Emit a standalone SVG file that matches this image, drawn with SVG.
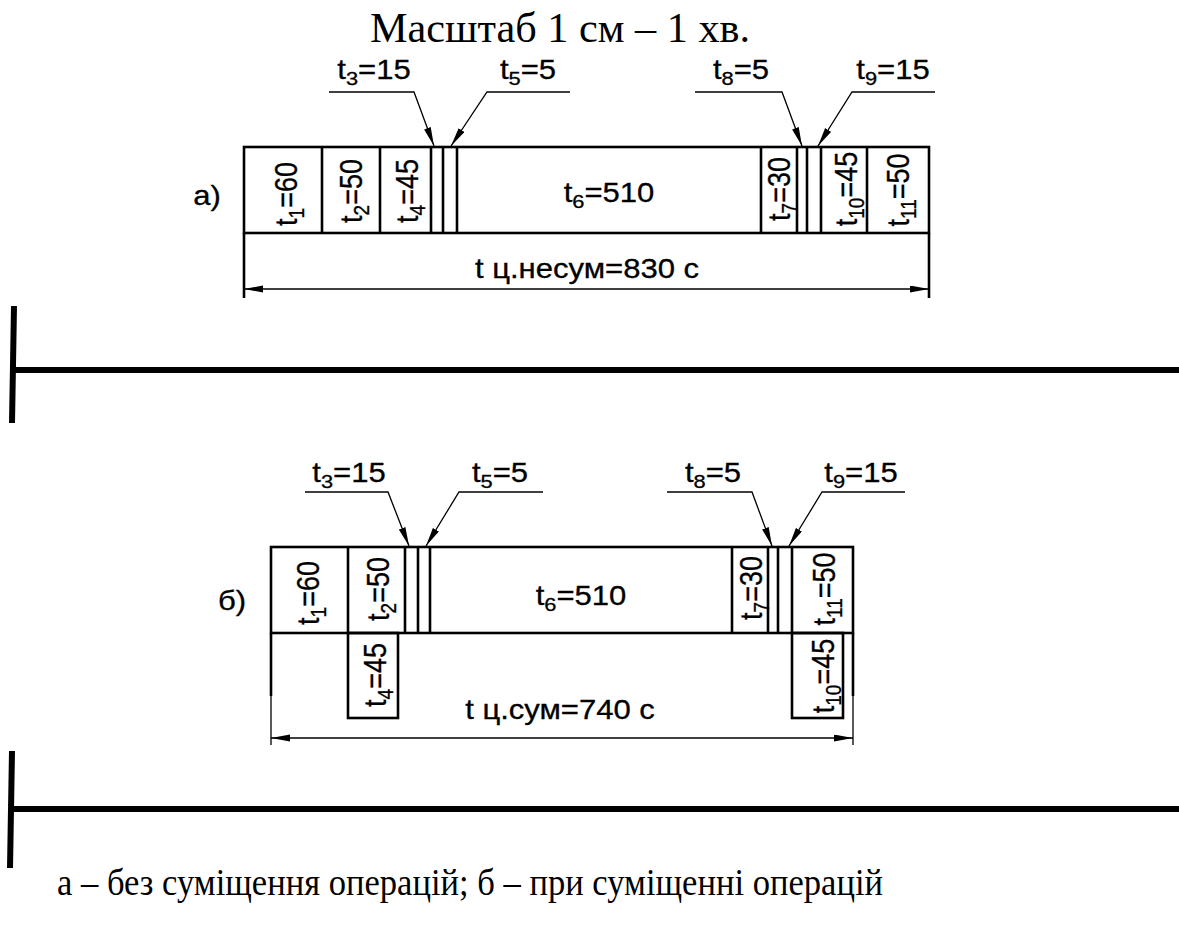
<svg xmlns="http://www.w3.org/2000/svg" width="1179" height="936" viewBox="0 0 1179 936">
<defs>
<marker id="ah" markerUnits="userSpaceOnUse" markerWidth="20" markerHeight="8" refX="19" refY="3.5" orient="auto-start-reverse">
<path d="M0,0 L19,3.5 L0,7 z" fill="#000"/>
</marker>
<style>
.box{fill:none;stroke:#000;stroke-width:2.6}
.div{stroke:#000;stroke-width:2.6}
.thin{stroke:#000;stroke-width:1.3;fill:none}
.sep{stroke:#000;stroke-width:6;fill:none}
.lbl{font-family:"Liberation Sans",Arial,sans-serif;font-size:27px;fill:#000;text-anchor:middle;stroke:#000;stroke-width:0.3}
.ser{font-family:"Liberation Serif","Times New Roman",serif;fill:#000}
</style>
</defs>
<rect width="1179" height="936" fill="#fff"/>
<text class="ser" x="370" y="42" font-size="42" textLength="380" lengthAdjust="spacingAndGlyphs">Масштаб 1 см – 1 хв.</text>

<g id="diagram-a">
<rect class="box" x="244" y="147" width="685" height="86"/>
<g class="div">
<line x1="322" y1="147" x2="322" y2="233"/>
<line x1="380" y1="147" x2="380" y2="233"/>
<line x1="431" y1="147" x2="431" y2="233"/>
<line x1="443" y1="147" x2="443" y2="233"/>
<line x1="457" y1="147" x2="457" y2="233"/>
<line x1="761" y1="147" x2="761" y2="233"/>
<line x1="797" y1="147" x2="797" y2="233"/>
<line x1="807" y1="147" x2="807" y2="233"/>
<line x1="821" y1="147" x2="821" y2="233"/>
<line x1="867" y1="147" x2="867" y2="233"/>
<line x1="244" y1="233" x2="244" y2="298"/>
<line x1="929" y1="233" x2="929" y2="298"/>
</g>
<text class="lbl" transform="translate(207,205) scale(1.15,1)">а)</text>
<text class="lbl" transform="translate(297,194) scale(1.15,1) rotate(-90)">t<tspan font-size="19" dy="6">1</tspan><tspan dy="-6">=60</tspan></text>
<text class="lbl" transform="translate(362,191) scale(1.15,1) rotate(-90)">t<tspan font-size="19" dy="6">2</tspan><tspan dy="-6">=50</tspan></text>
<text class="lbl" transform="translate(418,191) scale(1.15,1) rotate(-90)">t<tspan font-size="19" dy="6">4</tspan><tspan dy="-6">=45</tspan></text>
<text class="lbl" transform="translate(609,202) scale(1.15,1)">t<tspan font-size="19" dy="6">6</tspan><tspan dy="-6">=510</tspan></text>
<text class="lbl" transform="translate(790,189) scale(1.15,1) rotate(-90)">t<tspan font-size="19" dy="6">7</tspan><tspan dy="-6">=30</tspan></text>
<text class="lbl" transform="translate(857,189) scale(1.15,1) rotate(-90)">t<tspan font-size="19" dy="6">10</tspan><tspan dy="-6">=45</tspan></text>
<text class="lbl" transform="translate(909,190) scale(1.15,1) rotate(-90)">t<tspan font-size="19" dy="6">11</tspan><tspan dy="-6">=50</tspan></text>
<text class="lbl" transform="translate(374,79) scale(1.15,1)">t<tspan font-size="19" dy="6">3</tspan><tspan dy="-6">=15</tspan></text>
<text class="lbl" transform="translate(528,79) scale(1.15,1)">t<tspan font-size="19" dy="6">5</tspan><tspan dy="-6">=5</tspan></text>
<text class="lbl" transform="translate(741,79) scale(1.15,1)">t<tspan font-size="19" dy="6">8</tspan><tspan dy="-6">=5</tspan></text>
<text class="lbl" transform="translate(893,79) scale(1.15,1)">t<tspan font-size="19" dy="6">9</tspan><tspan dy="-6">=15</tspan></text>
<text class="lbl" transform="translate(587,278) scale(1.15,1)">t ц.несум=830 с</text>
</g>

<g id="diagram-b">
<rect class="box" x="271" y="547" width="582" height="86"/>
<rect class="box" x="348" y="633" width="50" height="85"/>
<rect class="box" x="792" y="633" width="51" height="85"/>
<g class="div">
<line x1="348" y1="547" x2="348" y2="633"/>
<line x1="405" y1="547" x2="405" y2="633"/>
<line x1="418" y1="547" x2="418" y2="633"/>
<line x1="430" y1="547" x2="430" y2="633"/>
<line x1="732" y1="547" x2="732" y2="633"/>
<line x1="768" y1="547" x2="768" y2="633"/>
<line x1="778" y1="547" x2="778" y2="633"/>
<line x1="792" y1="547" x2="792" y2="633"/>
<line x1="271" y1="633" x2="271" y2="696"/>
<line x1="853" y1="633" x2="853" y2="696"/>
</g>
<line class="thin" x1="271" y1="696" x2="271" y2="745"/>
<line class="thin" x1="853" y1="696" x2="853" y2="745"/>
<text class="lbl" transform="translate(232,610) scale(1.15,1)">б)</text>
<text class="lbl" transform="translate(319,593) scale(1.15,1) rotate(-90)">t<tspan font-size="19" dy="6">1</tspan><tspan dy="-6">=60</tspan></text>
<text class="lbl" transform="translate(389,589) scale(1.15,1) rotate(-90)">t<tspan font-size="19" dy="6">2</tspan><tspan dy="-6">=50</tspan></text>
<text class="lbl" transform="translate(386,675) scale(1.15,1) rotate(-90)">t<tspan font-size="19" dy="6">4</tspan><tspan dy="-6">=45</tspan></text>
<text class="lbl" transform="translate(581,605) scale(1.15,1)">t<tspan font-size="19" dy="6">6</tspan><tspan dy="-6">=510</tspan></text>
<text class="lbl" transform="translate(762,588) scale(1.15,1) rotate(-90)">t<tspan font-size="19" dy="6">7</tspan><tspan dy="-6">=30</tspan></text>
<text class="lbl" transform="translate(835,589) scale(1.15,1) rotate(-90)">t<tspan font-size="19" dy="6">11</tspan><tspan dy="-6">=50</tspan></text>
<text class="lbl" transform="translate(834,676) scale(1.15,1) rotate(-90)">t<tspan font-size="19" dy="6">10</tspan><tspan dy="-6">=45</tspan></text>
<text class="lbl" transform="translate(349,482) scale(1.15,1)">t<tspan font-size="19" dy="6">3</tspan><tspan dy="-6">=15</tspan></text>
<text class="lbl" transform="translate(500,482) scale(1.15,1)">t<tspan font-size="19" dy="6">5</tspan><tspan dy="-6">=5</tspan></text>
<text class="lbl" transform="translate(713,482) scale(1.15,1)">t<tspan font-size="19" dy="6">8</tspan><tspan dy="-6">=5</tspan></text>
<text class="lbl" transform="translate(861,482) scale(1.15,1)">t<tspan font-size="19" dy="6">9</tspan><tspan dy="-6">=15</tspan></text>
<text class="lbl" transform="translate(560,719) scale(1.15,1)">t ц.сум=740 с</text>
</g>

<g id="connectors">
<polyline class="thin" points="329,92 414,92 434,146" marker-end="url(#ah)"/>
<polyline class="thin" points="570,92 487,92 451,146" marker-end="url(#ah)"/>
<polyline class="thin" points="695,92 782,92 802,146" marker-end="url(#ah)"/>
<polyline class="thin" points="935,92 852,92 818,146" marker-end="url(#ah)"/>
<line class="thin" x1="244" y1="289" x2="929" y2="289" marker-start="url(#ah)" marker-end="url(#ah)"/>
<polyline class="thin" points="305,492 388,492 409,546" marker-end="url(#ah)"/>
<polyline class="thin" points="543,492 459,492 426,546" marker-end="url(#ah)"/>
<polyline class="thin" points="667,492 752,492 772,546" marker-end="url(#ah)"/>
<polyline class="thin" points="905,492 822,492 789,546" marker-end="url(#ah)"/>
<line class="thin" x1="271" y1="738" x2="853" y2="738" marker-start="url(#ah)" marker-end="url(#ah)"/>
</g>

<g id="separators">
<line class="sep" x1="14" y1="306" x2="12" y2="423"/>
<line class="sep" x1="12" y1="370" x2="1179" y2="370"/>
<line class="sep" x1="12" y1="751" x2="10" y2="868"/>
<line class="sep" x1="10" y1="809" x2="1179" y2="809"/>
</g>

<text class="ser" x="57" y="895" font-size="37" textLength="826" lengthAdjust="spacingAndGlyphs">а – без суміщення операцій; б – при суміщенні операцій</text>
</svg>
